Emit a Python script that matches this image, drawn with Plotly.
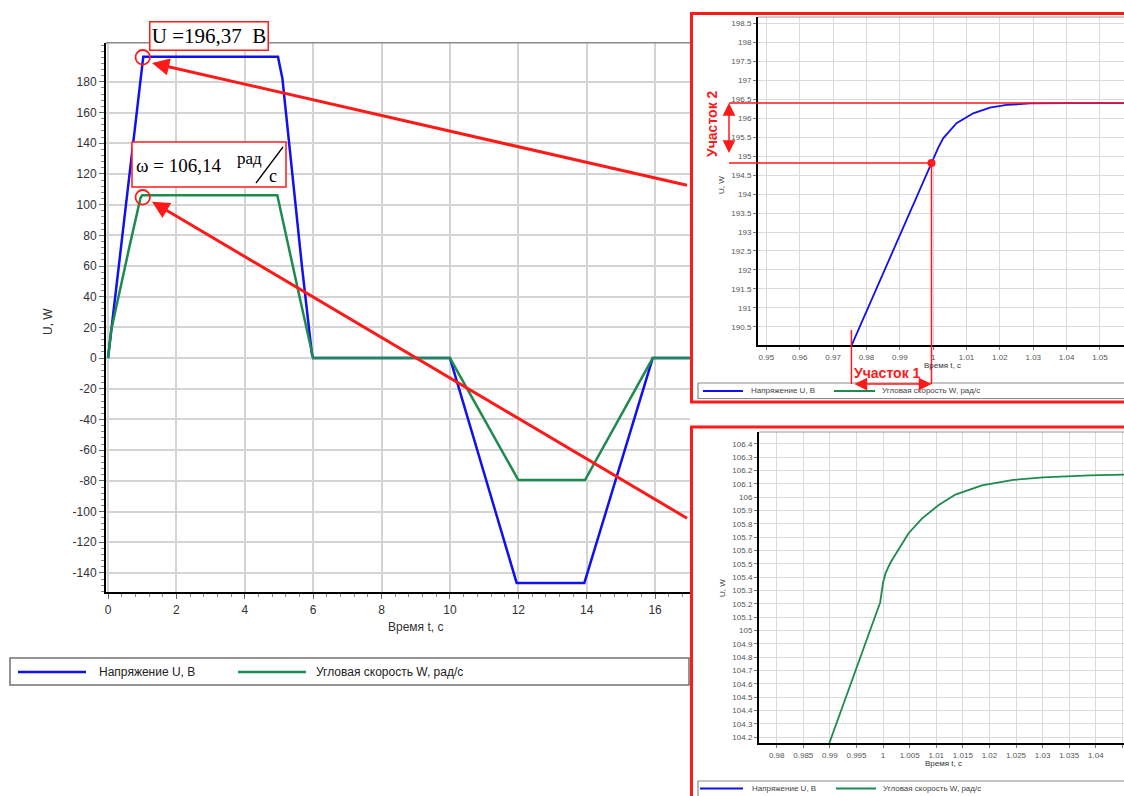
import plotly.graph_objects as go

# ---------------- data ----------------
# main chart
t_main_u = [0, 1.0, 1.03, 4.97, 5.1, 5.67, 5.96, 6.0, 10.0, 11.95, 13.93, 15.93, 17.1]
u_main = [0, 194.8, 196.37, 196.37, 182, 60, 3, 0, 0, -146.5, -146.5, 0, 0]
t_main_w = [0, 0.09, 0.62, 0.95, 1.0, 4.95, 5.6, 6.0, 10.0, 12.0, 13.95, 15.93, 17.1]
w_main = [0, 18, 72, 104.5, 106.14, 106.14, 40, 0, 0, -79.5, -79.5, 0, 0]

# zoomed views around t = 1 s
t_u_fine = [0.9753, 0.9995, 1.0, 1.0015, 1.003, 1.007, 1.012, 1.017, 1.022, 1.029, 1.04, 1.06]
u_fine = [189.96, 194.82, 194.92, 195.22, 195.47, 195.87, 196.13, 196.28, 196.35, 196.39, 196.4, 196.4]
t_w_fine = [0.9899, 0.99945, 1.0, 1.00047, 1.0014, 1.0026, 1.0048, 1.0073, 1.0104, 1.0136,
            1.0186, 1.0245, 1.0301, 1.0389, 1.046]
w_fine = [104.155, 105.21, 105.36, 105.43, 105.51, 105.59, 105.73, 105.84, 105.94, 106.02,
          106.09, 106.13, 106.15, 106.165, 106.17]

# marked point / levels
t_mark = [0.9995]
u_mark = [194.82]
u_level_high = 196.4
t_seg_start = 0.9755

main_y_ticks = list(range(-140, 181, 20))
main_y_labels = [str(v) for v in main_y_ticks]

name_u = "Напряжение U, В"
name_w = "Угловая скорость W, рад/с"
label_u = "U =196,37  B"
label_w = "ω = 106,14"

# ---------------- layout helpers ----------------
W, H = 1124, 796
def px(x): return x / W
def py(y): return 1 - y / H

BLUE = "#1010f0"
GREEN = "#1d8a4e"
RED = "#ff1a1a"

# main plot area (pixels)
M_L, M_R, M_T, M_B = 106, 690, 42.7, 592.3
# inset 1
I1_L, I1_R, I1_T, I1_B = 758, 1124, 17, 345
r1x = [0.9475, 1.0572]
r1y = [190.02, 198.67]
# inset 2
I2_L, I2_R, I2_T, I2_B = 759, 1124, 432, 743
r2x = [0.97667, 1.0453]
r2y = [104.155, 106.49]

def x2pix(t): return I1_L + (t - r1x[0]) / (r1x[1] - r1x[0]) * (I1_R - I1_L)
def y2pix(v): return I1_T + (r1y[1] - v) / (r1y[1] - r1y[0]) * (I1_B - I1_T)

fig = go.Figure()
# main
fig.add_trace(go.Scatter(x=t_main_u, y=u_main, mode="lines", name=name_u,
                         line=dict(color=BLUE, width=2.5), xaxis="x", yaxis="y"))
fig.add_trace(go.Scatter(x=t_main_w, y=w_main, mode="lines", name=name_w,
                         line=dict(color=GREEN, width=2.5), xaxis="x", yaxis="y"))
# inset 1
fig.add_trace(go.Scatter(x=t_u_fine, y=u_fine, mode="lines", name=name_u,
                         line=dict(color=BLUE, width=1.8), xaxis="x2", yaxis="y2"))
fig.add_trace(go.Scatter(x=t_w_fine, y=w_fine, mode="lines", name=name_w,
                         line=dict(color=GREEN, width=1.8), xaxis="x2", yaxis="y2"))
fig.add_trace(go.Scatter(x=t_mark, y=u_mark, mode="markers",
                         marker=dict(color=RED, size=8), xaxis="x2", yaxis="y2"))
# inset 2
fig.add_trace(go.Scatter(x=t_u_fine, y=u_fine, mode="lines", name=name_u,
                         line=dict(color=BLUE, width=1.8), xaxis="x3", yaxis="y3"))
fig.add_trace(go.Scatter(x=t_w_fine, y=w_fine, mode="lines", name=name_w,
                         line=dict(color=GREEN, width=1.8), xaxis="x3", yaxis="y3"))

tickfont_main = dict(family="Liberation Sans", size=12, color="#333")
tickfont_in = dict(family="Liberation Sans", size=8, color="#555")

common_main = dict(showline=True, linecolor="black", linewidth=2, ticks="outside",
                   ticklen=5, tickcolor="#666", showgrid=True, gridcolor="#d4d4d4",
                   gridwidth=1.5, zeroline=False, tickfont=tickfont_main)
common_in = dict(showline=True, linecolor="black", linewidth=2, ticks="outside",
                 ticklen=3, tickcolor="#777", showgrid=True, gridcolor="#dadada",
                 gridwidth=1, zeroline=False, tickfont=tickfont_in)

fig.update_layout(
    width=W, height=H, autosize=False,
    margin=dict(l=0, r=0, t=0, b=0),
    paper_bgcolor="white", plot_bgcolor="white",
    showlegend=False,
    xaxis=dict(domain=[px(M_L), px(M_R)], range=[-0.06, 17.02], dtick=2, tick0=0,
               anchor="y", minor=dict(dtick=0.4, tick0=0, ticks="outside", ticklen=3,
                                      tickcolor="#888", showgrid=False), **common_main),
    yaxis=dict(domain=[py(M_B), py(M_T)], range=[-152.6, 205.5], tickmode="array",
               tickvals=main_y_ticks, ticktext=main_y_labels, anchor="x",
               minor=dict(dtick=4, tick0=0, ticks="outside", ticklen=3,
                          tickcolor="#888", showgrid=False), **common_main),
    xaxis2=dict(domain=[px(I1_L), 1], range=r1x, dtick=0.01, tick0=0, anchor="y2", **common_in),
    yaxis2=dict(domain=[py(I1_B), py(I1_T)], range=r1y, dtick=0.5, tick0=0, anchor="x2", **common_in),
    xaxis3=dict(domain=[px(I2_L), 1], range=r2x, dtick=0.005, tick0=0, anchor="y3", **common_in),
    yaxis3=dict(domain=[py(I2_B), py(I2_T)], range=r2y, dtick=0.1, tick0=0, anchor="x3", **common_in),
)

shapes = []
def pline(x0, y0, x1, y1, color, width, layer="above"):
    shapes.append(dict(type="line", xref="paper", yref="paper", x0=px(x0), y0=py(y0),
                       x1=px(x1), y1=py(y1), line=dict(color=color, width=width), layer=layer))
def prect(x0, y0, x1, y1, color, width, fill=None, layer="above"):
    shapes.append(dict(type="rect", xref="paper", yref="paper", x0=px(x0), y0=py(y0),
                       x1=px(x1), y1=py(y1), line=dict(color=color, width=width),
                       fillcolor=fill if fill else "rgba(0,0,0,0)", layer=layer))

# top borders of plot areas
pline(M_L, M_T, M_R, M_T, "#8a8a8a", 1.5)
pline(I1_L, I1_T, I1_R, I1_T, "#9a9a9a", 1.2)
pline(I2_L, I2_T, I2_R, I2_T, "#9a9a9a", 1.2)

# main legend
prect(10, 658, 689, 685, "#707070", 1.5)
pline(18, 672, 86, 672, BLUE, 2.5)
pline(238, 672, 306, 672, GREEN, 2.5)

# inset legends
prect(698, 383, 1140, 398.5, "#8a8a8a", 1.2)
pline(703, 391, 743, 391, BLUE, 1.8)
pline(834, 391, 875, 391, GREEN, 1.8)
prect(698, 781, 1140, 800, "#8a8a8a", 1.2)
pline(700, 788.5, 743, 788.5, BLUE, 1.8)
pline(836, 788.5, 876, 788.5, GREEN, 1.8)

# ω label box and fraction slash
prect(132, 142, 286, 187, RED, 1.5, fill="white")
pline(256, 183, 283, 147, "black", 1.3)

# circles
for cy in (57.3, 197.3):
    shapes.append(dict(type="circle", xref="paper", yref="paper", x0=px(135.5), y0=py(cy - 7.3),
                       x1=px(150), y1=py(cy + 7.3), line=dict(color=RED, width=1.8), layer="above"))

# inset frames
prect(691.5, 13.5, 1140, 402, RED, 3)
prect(691.5, 427, 1140, 805, RED, 3)

# section guide lines in inset 1
yh = y2pix(u_level_high)
ym = y2pix(u_mark[0])
xm = x2pix(t_mark[0])
xs = x2pix(t_seg_start)
pline(729, yh, 1124, yh, RED, 1.5)
pline(729, ym, xm, ym, RED, 1.5)
pline(xm, ym, xm, 384, RED, 1.5)
pline(xs, 330, xs, 384, RED, 1.5)

fig.update_layout(shapes=shapes)

ann = []
def ptext(x, y, text, size, color="#333", family="Liberation Sans", angle=0, xanchor="center", bold=False):
    t = f"<b>{text}</b>" if bold else text
    ann.append(dict(x=px(x), y=py(y), xref="paper", yref="paper", text=t, showarrow=False,
                    font=dict(family=family, size=size, color=color), textangle=angle,
                    xanchor=xanchor, yanchor="middle"))

# axis titles
ptext(416, 627, "Время t, c", 12)
ptext(48, 322, "U, W", 12, angle=-90)
ptext(942, 365, "Время t, c", 8)
ptext(722, 185, "U, W", 8, angle=-90)
ptext(943, 763, "Время t, c", 8)
ptext(722, 588, "U, W", 8, angle=-90)

# legend texts
ptext(97, 672, name_u, 12, color="#222", xanchor="left")
ptext(314, 672, name_w, 12, color="#222", xanchor="left")
ptext(749, 391, name_u, 8, color="#444", xanchor="left")
ptext(880, 391, name_w, 8, color="#444", xanchor="left")
ptext(750, 788.5, name_u, 8, color="#444", xanchor="left")
ptext(881, 788.5, name_w, 8, color="#444", xanchor="left")

# value boxes
ann.append(dict(x=px(209), y=py(36), xref="paper", yref="paper", text=label_u, showarrow=False,
                xanchor="center", yanchor="middle",
                font=dict(family="Liberation Serif", size=21, color="black"),
                bordercolor=RED, borderwidth=1.5, borderpad=1, bgcolor="white",
                width=115, height=25))
ptext(178, 166, label_w, 19, color="black", family="Liberation Serif")
ptext(249, 158, "рад", 17, color="black", family="Liberation Serif")
ptext(273, 176, "c", 18, color="black", family="Liberation Serif")

# section labels
ptext(887, 372.5, "Участок 1", 14, color=RED, family="Liberation Sans", bold=True)
ptext(712, 124, "Участок 2", 14, color=RED, family="Liberation Sans", angle=-90, bold=True)

# big arrows
for tip, tail in (((152, 63), (690, 186)), ((152, 201.7), (690, 520))):
    ann.append(dict(x=px(tip[0]), y=py(tip[1]), xref="paper", yref="paper", text=" ",
                    showarrow=True, ax=tail[0] - tip[0], ay=tail[1] - tip[1],
                    arrowcolor=RED, arrowwidth=3, arrowhead=2, arrowsize=1.15, standoff=0))
# double arrows
ann.append(dict(x=px(729), y=py(yh), xref="paper", yref="paper", text=" ", showarrow=True,
                ax=0, ay=ym - yh, arrowcolor=RED, arrowwidth=1.5, arrowhead=2, arrowsize=1.7,
                startarrowhead=2, startarrowsize=1.7, arrowside="end+start", standoff=0, startstandoff=0))
ann.append(dict(x=px(xm), y=py(384), xref="paper", yref="paper", text=" ", showarrow=True,
                ax=xs - xm, ay=0, arrowcolor=RED, arrowwidth=1.5, arrowhead=2, arrowsize=1.7,
                startarrowhead=2, startarrowsize=1.7, arrowside="end+start", standoff=0, startstandoff=0))

fig.update_layout(annotations=ann)
fig.write_html("out.html")
